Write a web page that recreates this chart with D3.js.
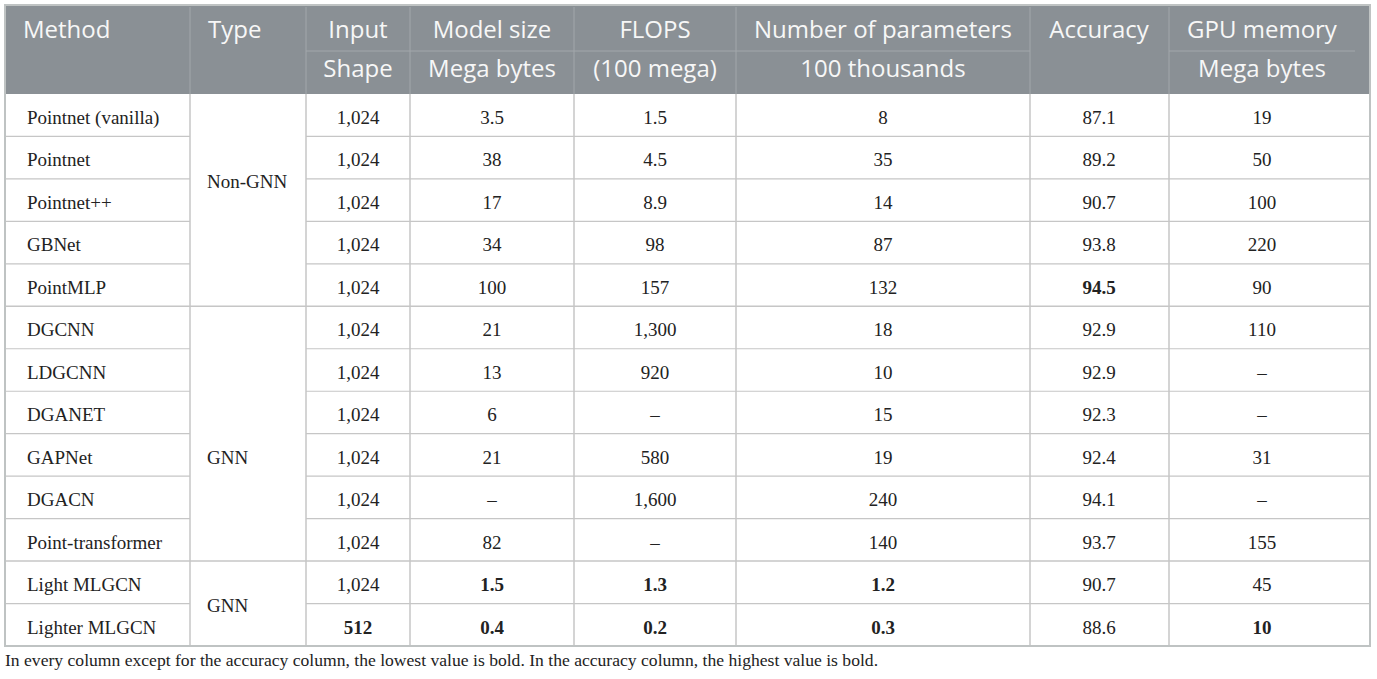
<!DOCTYPE html>
<html>
<head>
<meta charset="utf-8">
<script src="https://cdnjs.cloudflare.com/ajax/libs/d3/7.8.5/d3.min.js"></script>
<style>
  body { margin: 0; background: #fff; }
  .hdr { font-family: "Open Sans", sans-serif; font-size: 24px; fill: #f7f7f7; }
  .cell { font-family: "Liberation Serif", serif; font-size: 19px; fill: #222; }
  .note { font-family: "Liberation Serif", serif; font-size: 17.6px; fill: #222; }
</style>
</head>
<body>
<script>
// table content
var headTop = ["Method", "Type", "Input", "Model size", "FLOPS", "Number of parameters", "Accuracy", "GPU memory"];
var headSub = ["", "", "Shape", "Mega bytes", "(100 mega)", "100 thousands", "", "Mega bytes"];

var methods = ["Pointnet (vanilla)", "Pointnet", "Pointnet++", "GBNet", "PointMLP", "DGCNN", "LDGCNN",
  "DGANET", "GAPNet", "DGACN", "Point-transformer", "Light MLGCN", "Lighter MLGCN"];
var inputShape = ["1,024", "1,024", "1,024", "1,024", "1,024", "1,024", "1,024", "1,024", "1,024", "1,024", "1,024", "1,024", "512"];
var modelSize = ["3.5", "38", "17", "34", "100", "21", "13", "6", "21", "–", "82", "1.5", "0.4"];
var flops = ["1.5", "4.5", "8.9", "98", "157", "1,300", "920", "–", "580", "1,600", "–", "1.3", "0.2"];
var params = ["8", "35", "14", "87", "132", "18", "10", "15", "19", "240", "140", "1.2", "0.3"];
var accuracy = ["87.1", "89.2", "90.7", "93.8", "94.5", "92.9", "92.9", "92.3", "92.4", "94.1", "93.7", "90.7", "88.6"];
var gpuMemory = ["19", "50", "100", "220", "90", "110", "–", "–", "31", "–", "155", "45", "10"];

var groupTypes = ["Non-GNN", "GNN", "GNN"];
var groupFirst = [0, 5, 11];
var groupLast = [4, 10, 12];

// bold cells: [row, column]
var boldCells = [[4, 6], [11, 3], [11, 4], [11, 5], [12, 2], [12, 3], [12, 4], [12, 5], [12, 7]];

var footnote = "In every column except for the accuracy column, the lowest value is bold. In the accuracy column, the highest value is bold.";

// layout
var colEdges = [5, 190, 306, 410, 574, 736, 1030, 1169, 1370];
var colCenter = [0, 0, 358, 492, 655, 883, 1099, 1262];
var leftPad = [22, 17];
var groupLabelRow = [1.5, 8, 11.5];
var tableTop = 5, headBottom = 94, tableBottom = 646, subLine = 51;

var W = 1377, H = 679;
var svg = d3.select("body").append("svg").attr("width", W).attr("height", H);

var columns = [methods, null, inputShape, modelSize, flops, params, accuracy, gpuMemory];

var y = d3.scaleBand()
  .domain(d3.range(methods.length))
  .range([headBottom, tableBottom]);

var g = svg.append("g");

// header background
g.append("rect")
  .attr("x", colEdges[0]).attr("y", tableTop)
  .attr("width", colEdges[8] - colEdges[0]).attr("height", headBottom - tableTop)
  .attr("fill", "#8a9095");

// header inner lines
g.selectAll(".hcol")
  .data(colEdges.slice(1, -1))
  .enter().append("line")
  .attr("x1", function (d) { return d; }).attr("x2", function (d) { return d; })
  .attr("y1", tableTop + 2).attr("y2", headBottom)
  .attr("stroke", "#a2a7ab").attr("stroke-width", 1);

g.selectAll(".hsub")
  .data([[colEdges[2], colEdges[6]], [colEdges[7], 1355]])
  .enter().append("line")
  .attr("x1", function (d) { return d[0]; }).attr("x2", function (d) { return d[1]; })
  .attr("y1", subLine).attr("y2", subLine)
  .attr("stroke", "#a2a7ab").attr("stroke-width", 1);

// header text
headTop.forEach(function (t, i) {
  var left = i < 2;
  g.append("text").attr("class", "hdr")
    .attr("x", left ? colEdges[i] + 18 : colCenter[i])
    .attr("y", 38)
    .attr("text-anchor", left ? "start" : "middle")
    .text(t);
  if (headSub[i]) {
    g.append("text").attr("class", "hdr")
      .attr("x", colCenter[i])
      .attr("y", 77)
      .attr("text-anchor", "middle")
      .text(headSub[i]);
  }
});

// body row lines (skip Type column except at group boundaries)
var gridColor = "#c6c6c6";
d3.range(1, methods.length).forEach(function (r) {
  var yy = y(r);
  var isGroupEdge = groupFirst.indexOf(r) >= 0;
  var segs = isGroupEdge ? [[colEdges[0], colEdges[8]]]
    : [[colEdges[0], colEdges[1]], [colEdges[2], colEdges[8]]];
  segs.forEach(function (s) {
    g.append("line")
      .attr("x1", s[0]).attr("x2", s[1])
      .attr("y1", yy).attr("y2", yy)
      .attr("stroke", gridColor).attr("stroke-width", isGroupEdge ? 1.5 : 1.2);
  });
});

// body column lines
g.selectAll(".bcol")
  .data(colEdges.slice(1, -1))
  .enter().append("line")
  .attr("x1", function (d) { return d; }).attr("x2", function (d) { return d; })
  .attr("y1", headBottom).attr("y2", tableBottom)
  .attr("stroke", gridColor).attr("stroke-width", 1.5);

// outer border
g.append("rect")
  .attr("x", colEdges[0]).attr("y", tableTop)
  .attr("width", colEdges[8] - colEdges[0]).attr("height", tableBottom - tableTop)
  .attr("fill", "none").attr("stroke", "#bfc3c3").attr("stroke-width", 2);

// body cells
function isBold(r, c) {
  return boldCells.some(function (b) { return b[0] === r && b[1] === c; });
}

columns.forEach(function (col, c) {
  if (!col) return;
  g.selectAll(".c" + c)
    .data(col)
    .enter().append("text")
    .attr("class", "cell")
    .attr("x", c === 0 ? colEdges[0] + leftPad[0] : colCenter[c])
    .attr("y", function (d, r) { return y(r) + 30; })
    .attr("text-anchor", c === 0 ? "start" : "middle")
    .attr("font-weight", function (d, r) { return isBold(r, c) ? "bold" : null; })
    .text(function (d) { return d; });
});

// type labels
g.selectAll(".type")
  .data(groupTypes)
  .enter().append("text")
  .attr("class", "cell")
  .attr("x", colEdges[1] + leftPad[1])
  .attr("y", function (d, i) { return headBottom + groupLabelRow[i] * y.bandwidth() + 30; })
  .text(function (d) { return d; });

// footnote
svg.append("text").attr("class", "note")
  .attr("x", 5).attr("y", 666)
  .text(footnote);
</script>
</body>
</html>
